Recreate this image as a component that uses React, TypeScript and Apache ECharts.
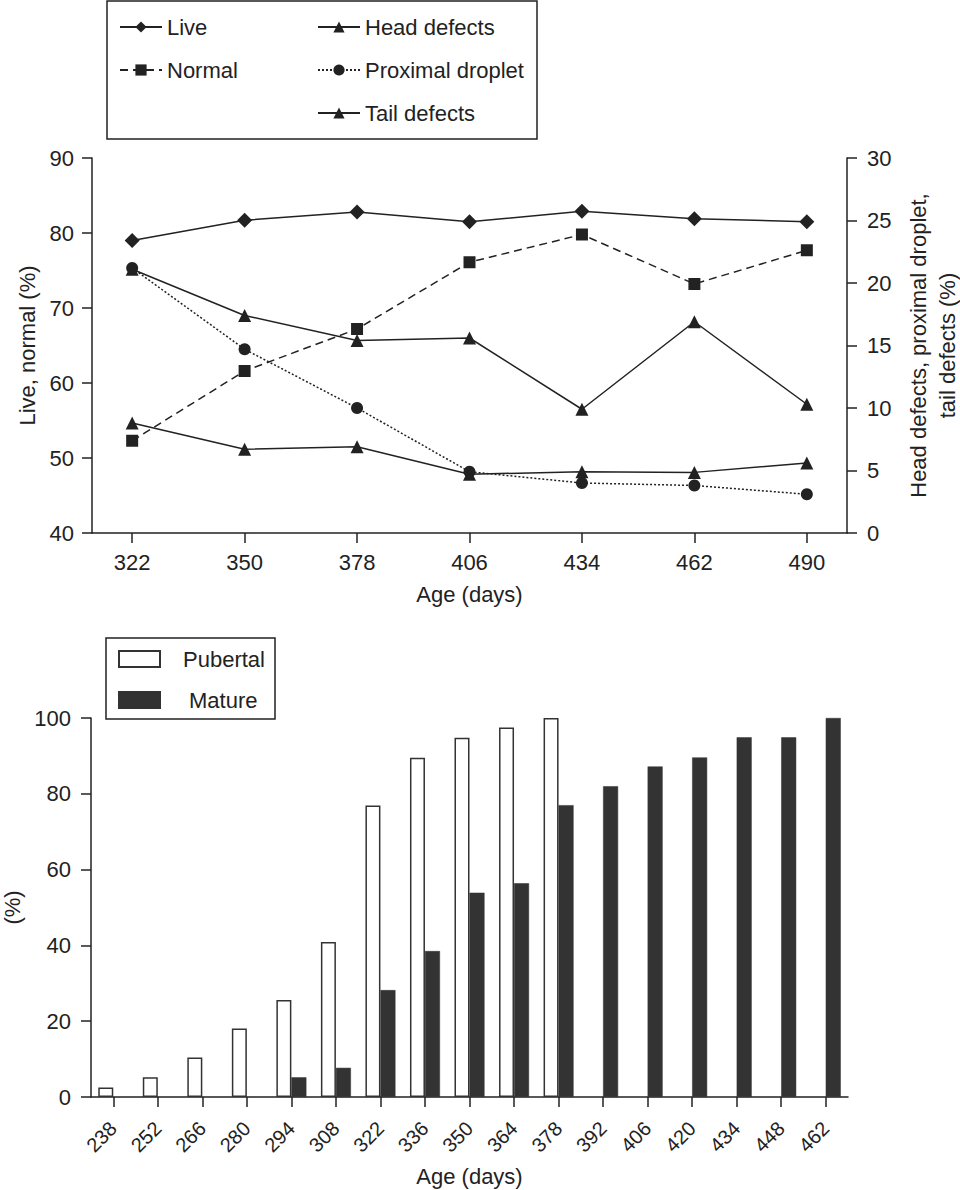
import React, { useEffect, useRef } from 'react';
import * as echarts from 'echarts';

// top panel: semen quality by age
const TOP_AGES = [322, 350, 378, 406, 434, 462, 490];
const LIVE = [79.0, 81.7, 82.8, 81.5, 82.9, 81.9, 81.5];
const NORMAL = [52.3, 61.6, 67.2, 76.1, 79.8, 73.2, 77.7];
const HEAD_DEFECTS = [21.1, 17.4, 15.4, 15.6, 9.9, 16.9, 10.3];
const PROXIMAL_DROPLET = [21.2, 14.7, 10.0, 4.9, 4.0, 3.8, 3.1];
const TAIL_DEFECTS = [8.8, 6.7, 6.9, 4.7, 4.9, 4.85, 5.6];

// bottom panel: pubertal / mature share by age
const BAR_AGES = ['238', '252', '266', '280', '294', '308', '322', '336', '350', '364', '378', '392', '406', '420', '434', '448', '462'];
const PUBERTAL = [2.5, 5.2, 10.4, 18.1, 25.6, 40.9, 76.9, 89.5, 94.8, 97.5, 100, null, null, null, null, null, null];
const MATURE = [null, null, null, null, 5.2, 7.7, 28.2, 38.5, 53.9, 56.4, 77.0, 82.0, 87.2, 89.6, 94.9, 94.9, 100];

const INK = '#222';
const FONT = '"Liberation Sans", Arial, sans-serif';
const FS = 22;

const pairs = (ys: number[]) => TOP_AGES.map((a, i) => [a, ys[i]]);

export default function App() {
  const ref = useRef<HTMLDivElement | null>(null);

  useEffect(() => {
    document.body.style.margin = '0';
    if (!ref.current) return;
    const chart = echarts.init(ref.current, undefined, { renderer: 'svg' });

    const axisLine = { show: true, lineStyle: { color: INK, width: 1.5 } };
    const axisTick = { show: true, length: 10, lineStyle: { color: INK, width: 1.5 } };
    const label = { color: INK, fontSize: FS, fontFamily: FONT };
    const nameStyle = { color: INK, fontSize: FS, fontFamily: FONT };
    const lineSeries = (name: string, data: number[], yAxisIndex: number, symbol: string, size: number, type: any) => ({
      name, type: 'line', xAxisIndex: 0, yAxisIndex, data: pairs(data),
      symbol, symbolSize: size,
      lineStyle: { color: INK, width: 1.5, type },
      itemStyle: { color: INK },
    });

    chart.setOption({
      animation: false,
      backgroundColor: '#fff',
      textStyle: { fontFamily: FONT },
      grid: [
        { left: 92, right: 113, top: 158, bottom: 657, outerBoundsMode: 'none' },
        { left: 91, right: 112, top: 718, bottom: 93, outerBoundsMode: 'none' },
      ],
      legend: [
        {
          data: ['Live', 'Normal'], orient: 'vertical', left: 119, top: 16, padding: 0,
          itemWidth: 42, itemHeight: 14, itemGap: 21, selectedMode: false,
          textStyle: { ...label },
        },
        {
          data: ['Head defects', 'Proximal droplet', 'Tail defects'], orient: 'vertical', left: 317, top: 16, padding: 0,
          itemWidth: 42, itemHeight: 14, itemGap: 21, selectedMode: false,
          textStyle: { ...label },
        },
        {
          data: ['Pubertal', 'Mature'], orient: 'vertical', left: 118, top: 648, padding: 0,
          itemWidth: 41, itemHeight: 16, itemGap: 19, selectedMode: false, icon: 'rect',
          formatter: (n: string) => (n === 'Mature' ? '{m|Mature}' : '{p|Pubertal}'),
          textStyle: {
            ...label,
            rich: {
              p: { ...label, padding: [0, 0, 0, 18] },
              m: { ...label, padding: [0, 0, 0, 24] },
            },
          },
        },
      ],
      graphic: [
        { type: 'rect', shape: { x: 107, y: 1, width: 430, height: 138 }, style: { fill: 'none', stroke: INK, lineWidth: 1.5 } },
        { type: 'rect', shape: { x: 106, y: 638, width: 169, height: 81 }, style: { fill: 'none', stroke: INK, lineWidth: 1.5 } },
      ],
      xAxis: [
        {
          type: 'value', gridIndex: 0, min: 312, max: 500,
          axisLine: { ...axisLine, onZero: false }, splitLine: { show: false },
          axisTick: { ...axisTick, customValues: TOP_AGES },
          axisLabel: { ...label, margin: 18, customValues: TOP_AGES },
          name: 'Age (days)', nameLocation: 'middle', nameGap: 50, nameTextStyle: nameStyle,
        },
        {
          type: 'category', gridIndex: 1, data: BAR_AGES, boundaryGap: true,
          axisLine, axisTick: { ...axisTick, alignWithLabel: true, interval: 0 },
          axisLabel: { ...label, fontSize: 20, rotate: 45, interval: 0, margin: 28 },
          name: 'Age (days)', nameLocation: 'middle', nameGap: 68, nameTextStyle: nameStyle,
        },
      ],
      yAxis: [
        {
          type: 'value', gridIndex: 0, min: 40, max: 90, interval: 10,
          axisLine, axisTick, splitLine: { show: false },
          axisLabel: { ...label, margin: 18 },
          name: 'Live, normal (%)', nameLocation: 'middle', nameRotate: 90, nameGap: 50, nameTextStyle: nameStyle,
        },
        {
          type: 'value', gridIndex: 0, position: 'right', min: 0, max: 30, interval: 5,
          axisLine, axisTick, splitLine: { show: false },
          axisLabel: { ...label, margin: 20 },
          name: 'Head defects, proximal droplet,\ntail defects (%)', nameLocation: 'middle', nameRotate: 90, nameGap: 57,
          nameTextStyle: { ...nameStyle, lineHeight: 29 },
        },
        {
          type: 'value', gridIndex: 1, min: 0, max: 100, interval: 20,
          axisLine, axisTick, splitLine: { show: false },
          axisLabel: { ...label, margin: 20 },
          name: '(%)', nameLocation: 'middle', nameRotate: 90, nameGap: 68, nameTextStyle: nameStyle,
        },
      ],
      series: [
        lineSeries('Live', LIVE, 0, 'diamond', 15, 'solid'),
        lineSeries('Normal', NORMAL, 0, 'rect', 12, [8, 5]),
        lineSeries('Head defects', HEAD_DEFECTS, 1, 'triangle', 13, 'solid'),
        lineSeries('Proximal droplet', PROXIMAL_DROPLET, 1, 'circle', 12, [2, 2]),
        lineSeries('Tail defects', TAIL_DEFECTS, 1, 'triangle', 13, 'solid'),
        {
          name: 'Pubertal', type: 'bar', xAxisIndex: 1, yAxisIndex: 2, data: PUBERTAL,
          barWidth: 15, barGap: '0%',
          itemStyle: { color: '#fff', borderColor: '#333', borderWidth: 1.5 },
        },
        {
          name: 'Mature', type: 'bar', xAxisIndex: 1, yAxisIndex: 2, data: MATURE,
          barWidth: 15, barGap: '0%',
          itemStyle: { color: '#333', borderColor: '#333', borderWidth: 0.5 },
        },
      ],
    });

    return () => { chart.dispose(); };
  }, []);

  return <div ref={ref} style={{ width: 960, height: 1190 }} />;
}
